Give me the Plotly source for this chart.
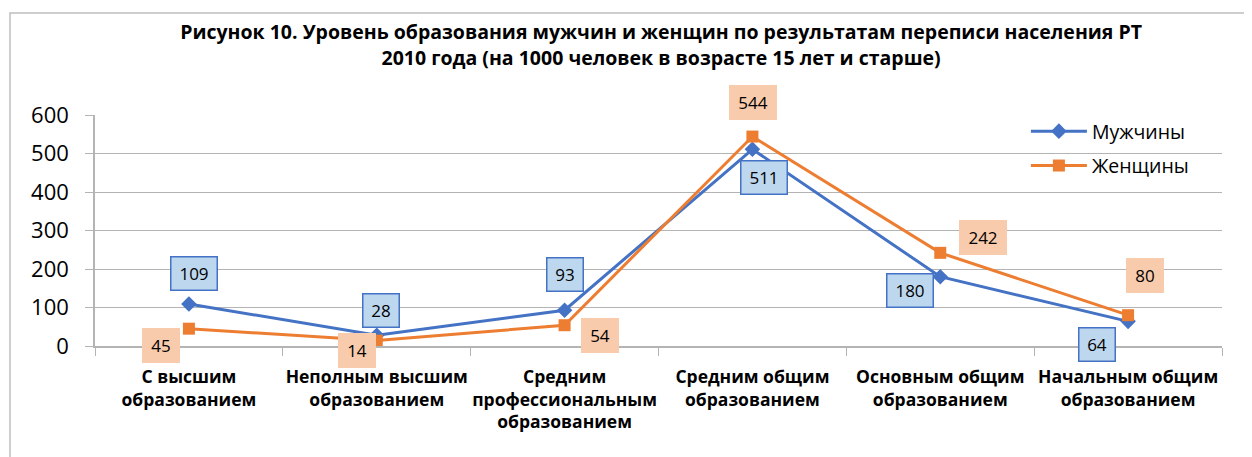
import plotly.graph_objects as go

categories = [
    "С высшим<br>образованием",
    "Неполным высшим<br>образованием",
    "Средним<br>профессиональным<br>образованием",
    "Средним общим<br>образованием",
    "Основным общим<br>образованием",
    "Начальным общим<br>образованием",
]
men = [109, 28, 93, 511, 180, 64]
women = [45, 14, 54, 544, 242, 80]
y_ticks = [0, 100, 200, 300, 400, 500, 600]

title = ("Рисунок 10. Уровень образования мужчин и женщин по результатам переписи населения РТ<br>"
         "2010 года (на 1000 человек в возрасте 15 лет и старше)")

BLUE = "#4472C4"
ORANGE = "#ED7D31"
GRID = "#B4B4B4"
FONT = "Open Sans"

# label offsets (pixels) relative to points
men_off = [(5, -31), (4, -25), (0, -36), (12, 28), (-30, 14), (-31, 23)]
women_off = [(-28, 17), (-20, 10), (35, 10), (1, -34), (43, -15), (17, -40)]

fig = go.Figure()
fig.add_trace(go.Scatter(
    x=categories, y=men, name="Мужчины", mode="lines+markers", legendgroup="m",
    line=dict(color=BLUE, width=3),
    marker=dict(symbol="diamond", size=12, color=BLUE),
))
fig.add_trace(go.Scatter(
    x=categories, y=women, name="Женщины", mode="lines+markers", legendgroup="w",
    line=dict(color=ORANGE, width=3),
    marker=dict(symbol="square", size=12, color=ORANGE),
))

annotations = []
for c, v, (dx, dy) in zip(categories, men, men_off):
    annotations.append(dict(
        x=c, y=v, xref="x", yref="y", text=str(v), showarrow=True,
        arrowcolor="rgba(0,0,0,0)", ax=dx, ay=dy,
        font=dict(family=FONT, size=17, color="#000000"),
        bgcolor="#BDD7EE", bordercolor=BLUE, borderwidth=1.5,
        width=43 if v >= 100 else 33, height=30, borderpad=1,
    ))
for c, v, (dx, dy) in zip(categories, women, women_off):
    annotations.append(dict(
        x=c, y=v, xref="x", yref="y", text=str(v), showarrow=True,
        arrowcolor="rgba(0,0,0,0)", ax=dx, ay=dy,
        font=dict(family=FONT, size=17, color="#000000"),
        bgcolor="#F8CBAD", borderwidth=0,
        width=48 if v >= 100 else 38, height=35, borderpad=0,
    ))

# page body has an 8px margin, so the figure is 8px smaller each way
W, H = 1244, 449
L, R, T, B = 87, 30, 107, 111
pw, ph = W - L - R, H - T - B

fig.update_layout(
    width=W, height=H,
    margin=dict(l=L, r=R, t=T, b=B, autoexpand=False),
    paper_bgcolor="white", plot_bgcolor="white",
    title=dict(text=title, x=0.525, xanchor="center", y=0.93, yanchor="top",
               font=dict(family=FONT, size=19.5, color="#000000", weight="bold")),
    font=dict(family=FONT, color="#000000"),
    showlegend=True,
    legend=dict(x=0.826, y=1.013, xanchor="left", yanchor="top",
                font=dict(family=FONT, size=19.5, color="#000000"),
                bgcolor="rgba(0,0,0,0)", tracegroupgap=6, itemwidth=56),
    annotations=annotations,
    shapes=[dict(type="rect", xref="paper", yref="paper",
                 x0=(2 - L) / pw, x1=1.2, y0=-0.8, y1=(ph + T - 5) / ph,
                 line=dict(color="#BFBFBF", width=1.5), fillcolor="rgba(0,0,0,0)",
                 layer="below")],
)
fig.update_xaxes(
    type="category", range=[-0.5, 5.5], tickson="boundaries", ticks="outside", ticklen=8,
    tickcolor=GRID, showline=True, linecolor=GRID, linewidth=1.5, tickangle=0,
    showgrid=False, tickfont=dict(family=FONT, size=17.5, color="#000000", weight="bold"),
    ticklabelstandoff=14,
)
fig.update_yaxes(
    range=[0, 600], tickvals=y_ticks, ticks="outside", ticklen=8,
    tickcolor=GRID, gridcolor=GRID, gridwidth=1.2, showline=True,
    linecolor=GRID, linewidth=1.5, zeroline=False,
    tickfont=dict(family=FONT, size=22, color="#000000"), ticklabelstandoff=12,
)

fig.write_html("out.html")
